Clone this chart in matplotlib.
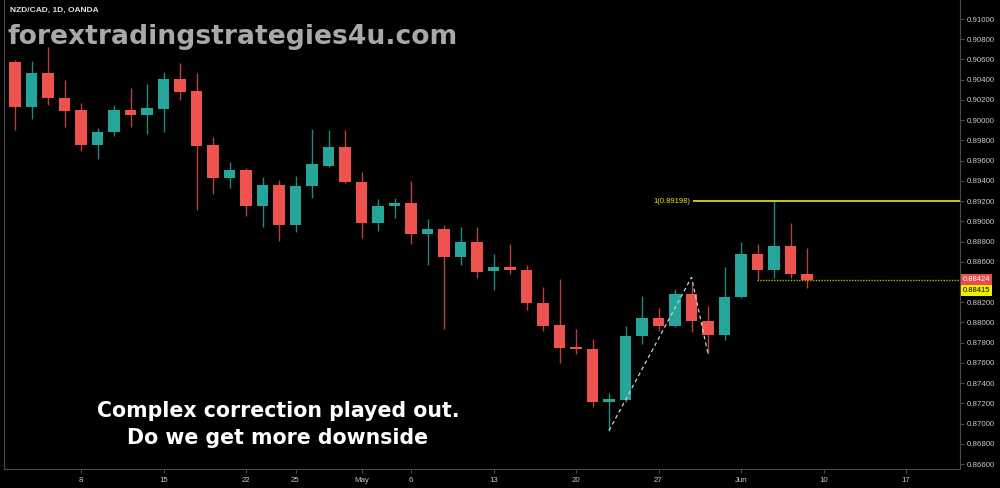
import numpy as np
import matplotlib
matplotlib.use("Agg")
import matplotlib.pyplot as plt

# NZD/CAD daily candles, 2 Apr - 7 Jun 2019
opens = [0.90571, 0.90126, 0.90462, 0.90221, 0.90096, 0.89753, 0.89878, 0.90102, 0.90047, 0.90109,
         0.90409, 0.90284, 0.89750, 0.89429, 0.89505, 0.89152, 0.89354, 0.88968, 0.89347, 0.89545,
         0.89730, 0.89389, 0.88983, 0.89152, 0.89185, 0.88878, 0.88928, 0.88647, 0.88795, 0.88505,
         0.88548, 0.88522, 0.88195, 0.87971, 0.87756, 0.87740, 0.87211, 0.87235, 0.87865, 0.88047,
         0.87964, 0.88284, 0.88013, 0.87875, 0.88249, 0.88674, 0.88515, 0.88753, 0.88482]
highs = [0.90594, 0.90584, 0.90726, 0.90396, 0.90165, 0.89918, 0.90149, 0.90314, 0.90354, 0.90472,
         0.90561, 0.90468, 0.89829, 0.89587, 0.89522, 0.89439, 0.89413, 0.89446, 0.89908, 0.89901,
         0.89901, 0.89488, 0.89225, 0.89235, 0.89399, 0.89027, 0.88968, 0.88944, 0.88944, 0.88674,
         0.88779, 0.88565, 0.88350, 0.88433, 0.87938, 0.87839, 0.87300, 0.87961, 0.88258, 0.88146,
         0.88334, 0.88383, 0.88159, 0.88548, 0.88795, 0.88772, 0.89198, 0.88981, 0.88733]
lows = [0.89901, 0.90007, 0.90149, 0.89928, 0.89696, 0.89611, 0.89843, 0.89928, 0.89862, 0.89884,
        0.90198, 0.89116, 0.89274, 0.89330, 0.89053, 0.88944, 0.88802, 0.88894, 0.89235, 0.89540,
        0.89375, 0.88839, 0.88904, 0.89037, 0.88779, 0.88565, 0.87938, 0.88565, 0.88443, 0.88324,
        0.88482, 0.88119, 0.87914, 0.87597, 0.87689, 0.87160, 0.86931, 0.87211, 0.87790, 0.87914,
        0.87955, 0.87904, 0.87683, 0.87829, 0.88240, 0.88417, 0.88444, 0.88437, 0.88337]
closes = [0.90126, 0.90462, 0.90218, 0.90092, 0.89753, 0.89881, 0.90102, 0.90047, 0.90116, 0.90409,
          0.90280, 0.89746, 0.89429, 0.89505, 0.89152, 0.89354, 0.88968, 0.89347, 0.89567, 0.89730,
          0.89389, 0.88983, 0.89152, 0.89185, 0.88878, 0.88928, 0.88647, 0.88795, 0.88498, 0.88548,
          0.88522, 0.88195, 0.87964, 0.87750, 0.87736, 0.87211, 0.87241, 0.87865, 0.88047, 0.87961,
          0.88284, 0.88013, 0.87875, 0.88249, 0.88674, 0.88515, 0.88753, 0.88482, 0.88424]

date_ticks = [4, 9, 14, 17, 21, 24, 29, 34, 39, 44, 49, 54]
date_labels = ["8", "15", "22", "25", "May", "6", "13", "20", "27", "Jun", "10", "17"]
price_ticks = [0.910, 0.908, 0.906, 0.904, 0.902, 0.900, 0.898, 0.896, 0.894, 0.892, 0.890,
               0.888, 0.886, 0.882, 0.880, 0.878, 0.876, 0.874, 0.872, 0.870, 0.868, 0.866]

# zigzag (dashed) and levels
zz_x = [36, 41, 42]
zz_y = [0.86931, 0.88446, 0.87688]
fib_level = 0.89198
last_price = 0.88424
line_price = 0.88415

UP = "#26a69a"
DOWN = "#ef5350"

fig = plt.figure(figsize=(10, 4.88), dpi=100, facecolor="black")
ax = fig.add_axes([0.004, 0.039, 0.956, 0.961], facecolor="black")

x = np.arange(len(opens))
o = np.array(opens); h = np.array(highs); l = np.array(lows); c = np.array(closes)
cols = [UP if cc >= oo else DOWN for oo, cc in zip(o, c)]
wick_cols = ["#1f8a80" if cc >= oo else "#b8403e" for oo, cc in zip(o, c)]
ax.vlines(x, l, h, colors=wick_cols, linewidth=1, zorder=2)
bottom = np.minimum(o, c)
height = np.maximum(np.abs(c - o), 0.00008)
ax.bar(x, height, bottom=bottom, width=0.68, color=cols, zorder=3)

# fib level line
ax.hlines(fib_level, 41.1, 60, colors="#d8d820", linewidth=1.3, zorder=4)
ax.text(40.95, fib_level, "1(0.89198)", color="#e8e830", fontsize=5.5,
        ha="right", va="center", family="Liberation Sans")

# dotted price line
ax.hlines(line_price + 0.00004, 44.97, 60, colors="#b8b800", linewidth=1, linestyle=(0, (1, 1)), zorder=4)

# zigzag
ax.plot(zz_x, zz_y, color="#d0d0d0", linewidth=0.9, linestyle=(0, (3, 2.5)), zorder=5)

ax.set_xlim(-0.667, 57.27)
ax.set_ylim(0.86551, 0.91188)

ax.yaxis.tick_right()
ax.set_yticks(price_ticks)
ax.set_yticklabels(["%.5f" % p for p in price_ticks])
ax.set_xticks(date_ticks)
ax.set_xticklabels(date_labels)
ax.tick_params(colors="#5a5a5a", labelcolor="#c8c8c8", labelsize=5.7, length=3, width=0.6)
for lab in ax.get_xticklabels() + ax.get_yticklabels():
    lab.set_family("Liberation Sans")
ax.tick_params(axis="x", pad=3)
ax.tick_params(axis="y", pad=2)
ax.spines["top"].set_visible(False)
for s in ["left", "right", "bottom"]:
    ax.spines[s].set_color("#4a4a4a")
    ax.spines[s].set_linewidth(0.8)

# price labels on the axis
ax.annotate("0.88424", xy=(1.0, last_price), xycoords=("axes fraction", "data"),
            xytext=(2, 0), textcoords="offset points", ha="left", va="center",
            fontsize=5.5, color="white", family="Liberation Sans", annotation_clip=False,
            bbox=dict(boxstyle="square,pad=0.25", fc="#e84c4c", ec="none"))
ax.annotate("0.88415", xy=(1.0, last_price), xycoords=("axes fraction", "data"),
            xytext=(2, -8), textcoords="offset points", ha="left", va="center",
            fontsize=5.5, color="black", family="Liberation Sans", annotation_clip=False,
            bbox=dict(boxstyle="square,pad=0.25", fc="#f0f000", ec="none"))

# header and watermark
fig.text(0.010, 1 - 10 / 488, "NZD/CAD, 1D, OANDA", color="#e0e0e0", fontsize=6,
         fontweight="bold", ha="left", va="center", family="Liberation Sans")
fig.text(0.007, 1 - 44 / 488, "forextradingstrategies4u.com", color="#a8a8a8",
         fontsize=19.2, fontweight="bold", ha="left", va="baseline", family="DejaVu Sans")

# comment
fig.text(0.278, 1 - 417 / 488, "Complex correction played out.", color="white",
         fontsize=14.8, fontweight="bold", ha="center", va="baseline", family="DejaVu Sans")
fig.text(0.278, 1 - 444 / 488, "Do we get more downside", color="white",
         fontsize=14.8, fontweight="bold", ha="center", va="baseline", family="DejaVu Sans")

fig.savefig("out.png", dpi=100, facecolor="black")
